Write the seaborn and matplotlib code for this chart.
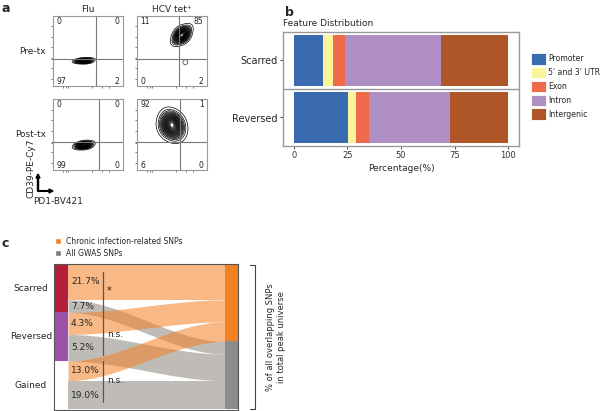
import numpy as np
import pandas as pd
import seaborn as sns
import matplotlib.pyplot as plt
from matplotlib.patches import Patch, FancyArrow

sns.set_style("white")
plt.rcParams['font.family'] = ['DejaVu Sans']

W, H = 600, 411

# ---- panel a : flow cytometry ----
col_titles = ["Flu", "HCV tet\u207a"]
row_titles = ["Pre-tx", "Post-tx"]
# quadrant percentages: upper-left, upper-right, lower-left, lower-right
flu_pre_q = [0, 0, 97, 2]
hcv_pre_q = [11, 85, 0, 2]
flu_post_q = [0, 0, 99, 0]
hcv_post_q = [92, 1, 6, 0]
# gate positions (x, y) in axis units
flu_pre_gate = [0.61, 0.39]
hcv_pre_gate = [0.60, 0.39]
flu_post_gate = [0.66, 0.40]
hcv_post_gate = [0.61, 0.40]
# events
flu_pre_x = [0.38, 0.41, 0.44, 0.47, 0.50, 0.42, 0.46, 0.44]
flu_pre_y = [0.35, 0.37, 0.36, 0.345, 0.375, 0.36, 0.35, 0.37]
hcv_pre_x = [0.58, 0.61, 0.64, 0.67, 0.70, 0.60, 0.68, 0.64, 0.62, 0.66]
hcv_pre_y = [0.67, 0.69, 0.73, 0.76, 0.79, 0.77, 0.69, 0.73, 0.74, 0.71]
hcv_pre_out = [0.69, 0.34]
flu_post_x = [0.38, 0.41, 0.44, 0.47, 0.50, 0.42, 0.46, 0.44]
flu_post_y = [0.33, 0.36, 0.35, 0.33, 0.37, 0.355, 0.34, 0.37]
hcv_post_x = [0.42, 0.47, 0.52, 0.58, 0.50, 0.44, 0.56, 0.50, 0.46, 0.55]
hcv_post_y = [0.62, 0.69, 0.67, 0.60, 0.56, 0.58, 0.68, 0.63, 0.72, 0.54]

# ---- panel b : feature distribution ----
features = ["Promoter", "5' and 3' UTR", "Exon", "Intron", "Intergenic"]
groups_b = ["Scarred", "Reversed"]
scarred_pct = [13.6, 4.6, 5.5, 45.1, 31.2]
reversed_pct = [25.2, 3.9, 5.8, 38.0, 27.1]
feature_colors = ["#3A6BB1", "#FAF59B", "#F0694A", "#AF8FC3", "#AF5628"]

# ---- panel c : SNP alluvial ----
groups_c = ["Scarred", "Reversed", "Gained"]
chronic_pct = [21.7, 4.3, 13.0]
gwas_pct = [7.7, 5.2, 19.0]
signif = ["*", "n.s.", "n.s."]
group_colors = ["#B41E3A", "#9E52A6", "#FFFFFF"]


def fax(x0, y0, x1, y1):
    return fig.add_axes([x0 / W, 1 - y1 / H, (x1 - x0) / W, (y1 - y0) / H])


fig = plt.figure(figsize=(6, 4.11), dpi=100)

# panel a
boxes = [(53, 16, 123, 86), (137, 16, 207, 86), (53, 99, 123, 170), (137, 99, 207, 170)]
quads = [flu_pre_q, hcv_pre_q, flu_post_q, hcv_post_q]
gates = [flu_pre_gate, hcv_pre_gate, flu_post_gate, hcv_post_gate]
events = [(flu_pre_x, flu_pre_y), (hcv_pre_x, hcv_pre_y),
          (flu_post_x, flu_post_y), (hcv_post_x, hcv_post_y)]
for i, box in enumerate(boxes):
    ax = fax(*box)
    ex, ey = events[i]
    sns.kdeplot(x=ex, y=ey, ax=ax, levels=22, thresh=0.03, color="black",
                linewidths=0.5, bw_adjust=2.0)
    if i == 1:
        sns.scatterplot(x=[hcv_pre_out[0]], y=[hcv_pre_out[1]], ax=ax, marker="o",
                        s=12, facecolor="none", edgecolor="#555555", linewidth=0.6)
    gx, gy = gates[i]
    ax.axvline(gx, color="#777777", lw=0.8)
    ax.axhline(gy, color="#777777", lw=0.8)
    q = quads[i]
    kw = dict(transform=ax.transAxes, fontsize=5.5, color="#222222")
    ax.text(0.05, 0.92, str(q[0]), ha="left", va="center", **kw)
    ax.text(0.95, 0.92, str(q[1]), ha="right", va="center", **kw)
    ax.text(0.05, 0.07, str(q[2]), ha="left", va="center", **kw)
    ax.text(0.95, 0.07, str(q[3]), ha="right", va="center", **kw)
    ax.set_xlim(0, 1)
    ax.set_ylim(0, 1)
    ax.set_xticks([0.14, 0.18, 0.22, 0.55, 0.7, 0.8])
    ax.set_yticks([0.1, 0.25, 0.38, 0.4, 0.55, 0.7, 0.85])
    ax.set_xticklabels([])
    ax.set_yticklabels([])
    ax.tick_params(length=1.5, width=0.5, colors="#444444", direction="out",
                   bottom=True, left=True)
    for s in ax.spines.values():
        s.set_color("#999999")
        s.set_linewidth(0.8)
    ax.set_xlabel("")
    ax.set_ylabel("")
    if i < 2:
        ax.set_title(col_titles[i], fontsize=6.5, pad=3)
    if i % 2 == 0:
        ax.text(-0.1, 0.5, row_titles[i // 2], transform=ax.transAxes,
                ha="right", va="center", fontsize=6.5)

fig.text(2 / W, 1 - 8 / H, "a", fontsize=9, fontweight="bold", va="center")
fig.text(31 / W, 1 - 168 / H, "CD39-PE-Cy7", rotation=90, fontsize=6.5,
         ha="center", va="center")
fig.text(33 / W, 1 - 201 / H, "PD1-BV421", fontsize=6.5, ha="left", va="center")
fig.patches.append(FancyArrow(
    38 / W, 1 - 191 / H, 0, 17 / H, width=0.7 / H, head_width=4 / W, head_length=4 / H,
    transform=fig.transFigure, color="black", length_includes_head=True))
fig.patches.append(FancyArrow(
    38 / W, 1 - 191 / H, 15 / W, 0, width=0.7 / H, head_width=4 / H, head_length=4 / W,
    transform=fig.transFigure, color="black", length_includes_head=True))

# panel b
axb = fax(283, 32, 519, 146)
df_b = pd.DataFrame({"group": np.repeat(groups_b, len(features)),
                     "feature": features * 2,
                     "pct": scarred_pct + reversed_pct})
df_b["cum"] = df_b.groupby("group", sort=False)["pct"].cumsum()
for feat, colr in reversed(list(zip(features, feature_colors))):
    sub = df_b[df_b["feature"] == feat]
    sns.barplot(data=sub, x="cum", y="group", order=groups_b, orient="h",
                color=colr, width=0.9, linewidth=0, saturation=1, ax=axb)
axb.axhline(0.5, color="#999999", lw=1)
axb.set_xlim(-5, 105)
axb.set_ylim(1.5, -0.5)
axb.set_xticks([0, 25, 50, 75, 100])
axb.tick_params(axis="x", labelsize=6, length=2, width=0.6, colors="#333333",
                bottom=True, pad=1.5)
axb.tick_params(axis="y", labelsize=7, length=2, width=0.6, left=True, pad=2)
axb.set_ylabel("")
axb.set_xlabel("Percentage(%)", fontsize=6.5, labelpad=3)
axb.set_title("Feature Distribution", fontsize=6.5, loc="left", x=0.0, pad=4)
for s in axb.spines.values():
    s.set_color("#999999")
    s.set_linewidth(1)
handles_b = [Patch(facecolor=c, edgecolor="white", lw=0.6) for c in feature_colors]
fig.legend(handles_b, features, loc="upper left", bbox_to_anchor=(531 / W, 1 - 53 / H),
           frameon=False, fontsize=5.6, handlelength=1.9, handleheight=1.9,
           labelspacing=0.3, handletextpad=0.3, borderpad=0, borderaxespad=0)
fig.text(285 / W, 1 - 12 / H, "b", fontsize=9, fontweight="bold", va="center")

# panel c
axc = fax(54, 264, 238, 409.5)
orange_frac = [c / (c + g) for c, g in zip(chronic_pct, gwas_pct)]
left_segs = []
for gi, of in enumerate(orange_frac):
    left_segs.append(("o", gi, gi + of))
    left_segs.append(("g", gi + of, gi + 1))
right_y = 0.0
right_pos = {}
for kind in ["o", "g"]:
    for gi, of in enumerate(orange_frac):
        h = of if kind == "o" else 1 - of
        right_pos[(kind, gi)] = (right_y, right_y + h)
        right_y += h
orange_total = sum(orange_frac)

xl, xr = 14, 171
xs = np.linspace(xl, xr, 200)
t = (xs - xl) / (xr - xl)
sm = t * t * (3 - 2 * t)
flow_col = {"o": "#F48024", "g": "#8C857E"}
for gi in range(3):
    for kind in ["g", "o"]:
        l0, l1 = left_segs[gi * 2 + (0 if kind == "o" else 1)][1:]
        r0, r1 = right_pos[(kind, gi)]
        top = l0 + (r0 - l0) * sm
        bot = l1 + (r1 - l1) * sm
        axc.fill_between(xs, top, bot, color=flow_col[kind], alpha=0.55, lw=0)
        axc.fill_between([0, xl], [l0, l0], [l1, l1], color=flow_col[kind], alpha=0.55, lw=0)
        axc.fill_between([xr, 184], [r0, r0], [r1, r1], color=flow_col[kind], alpha=0.55, lw=0)

for gi in range(3):
    axc.fill_between([0, xl], [gi, gi], [gi + 1, gi + 1], color=group_colors[gi], lw=0)
axc.fill_between([xr, 184], [0, 0], [orange_total] * 2, color="#F08224", lw=0)
axc.fill_between([xr, 184], [orange_total] * 2, [3, 3], color="#8E8C8A", lw=0)

for gi in range(3):
    of = orange_frac[gi]
    axc.text(17, gi + of / 2, f"{chronic_pct[gi]:.1f}%", fontsize=6.5, va="center")
    axc.text(17, gi + of + (1 - of) / 2, f"{gwas_pct[gi]:.1f}%", fontsize=6.5, va="center")
    axc.text(-23, gi + 0.5, groups_c[gi], fontsize=6.5, ha="center", va="center")
seg_lines = [(0.16, 1.0), (1.0, 1.87), (2.0, 2.85)]
sig_y = [0.55, 1.45, 2.4]
for (a0, a1), sy, lab in zip(seg_lines, sig_y, signif):
    axc.plot([49, 49], [a0, a1], color="#555555", lw=0.9)
    axc.text(53, sy, lab, fontsize=6.5 if lab != "*" else 7, va="center")
axc.plot([196, 201, 201, 196], [0.02, 0.02, 2.98, 2.98], color="#444444", lw=0.8,
         clip_on=False)
axc.text(222, 1.5, "% of all overlapping SNPs\nin total peak universe", rotation=90,
         fontsize=6, ha="center", va="center", linespacing=1.3)
axc.set_xlim(0, 184)
axc.set_ylim(3, 0)
axc.set_xticks([])
axc.set_yticks([])
for s in axc.spines.values():
    s.set_color("#555555")
    s.set_linewidth(0.8)
handles_c = [Patch(facecolor="#F08224"), Patch(facecolor="#7E7A76")]
fig.legend(handles_c, ["Chronic infection-related SNPs", "All GWAS SNPs"],
           loc="upper left", bbox_to_anchor=(55 / W, 1 - 237 / H), frameon=False,
           fontsize=5.5, handlelength=0.8, handleheight=0.8, labelspacing=0.35,
           handletextpad=0.6, borderpad=0, borderaxespad=0)
fig.text(2 / W, 1 - 243 / H, "c", fontsize=9, fontweight="bold", va="center")

fig.savefig("out.png", dpi=100)
